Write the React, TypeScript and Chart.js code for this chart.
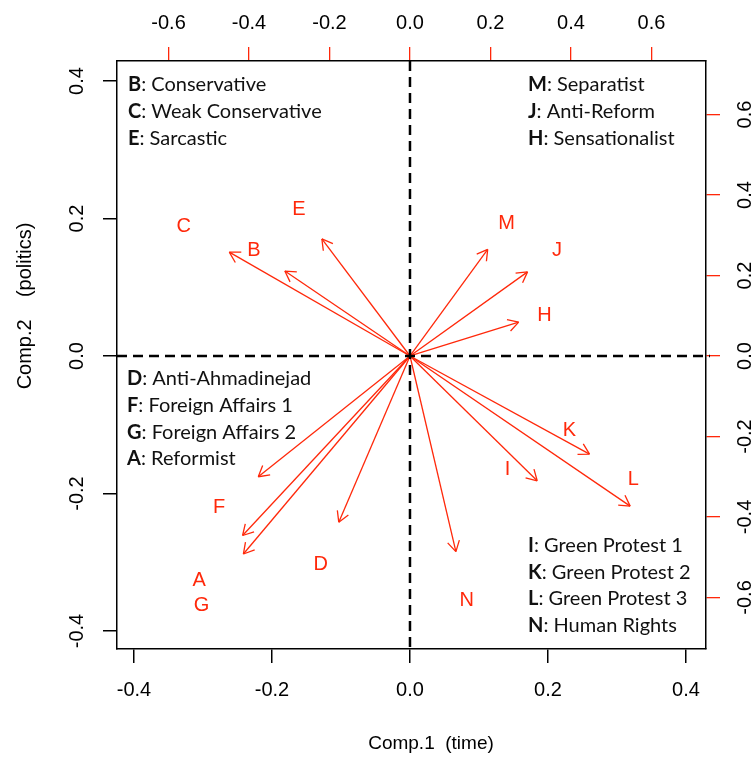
import { useEffect, useRef } from "react";
import { Chart, registerables } from "chart.js";

Chart.register(...registerables);

// ---- data ----
const varCodes = ["A", "B", "C", "D", "E", "F", "G", "H", "I", "J", "K", "L", "M", "N"];
// arrow tips (loading axes: top / right)
const arrowX = [-0.416, -0.311, -0.449, -0.177, -0.219, -0.377, -0.414, 0.270, 0.316, 0.292, 0.446, 0.547, 0.193, 0.114];
const arrowY = [-0.446, 0.211, 0.258, -0.413, 0.291, -0.300, -0.492, 0.084, -0.310, 0.209, -0.244, -0.373, 0.265, -0.486];
// label positions (loading axes)
const labelX = [-0.524, -0.388, -0.562, -0.222, -0.276, -0.474, -0.518, 0.334, 0.242, 0.365, 0.396, 0.555, 0.240, 0.141];
const labelY = [-0.559, 0.262, 0.321, -0.518, 0.363, -0.376, -0.619, 0.100, -0.282, 0.262, -0.184, -0.306, 0.328, -0.608];

const scoreTicks = [-0.4, -0.2, 0, 0.2, 0.4];
const loadingTicks = [-0.6, -0.4, -0.2, 0, 0.2, 0.4, 0.6];
const scoreXRange = [-0.4246, 0.429];
const scoreYRange = [-0.4262, 0.4291];
const loadXRange = [-0.728, 0.7354];
const loadYRange = [-0.728, 0.7329];

const legendTopLeft = [["B", "Conservative"], ["C", "Weak Conservative"], ["E", "Sarcastic"]];
const legendTopRight = [["M", "Separatist"], ["J", "Anti-Reform"], ["H", "Sensationalist"]];
const legendBottomLeft = [["D", "Anti-Ahmadinejad"], ["F", "Foreign Affairs 1"], ["G", "Foreign Affairs 2"], ["A", "Reformist"]];
const legendBottomRight = [["I", "Green Protest 1"], ["K", "Green Protest 2"], ["L", "Green Protest 3"], ["N", "Human Rights"]];

const xTitle = "Comp.1  (time)";
const yTitle = "Comp.2    (politics)";

const RED = "rgb(255,40,10)";
const AXIS_FONT = "Liberation Sans";
const LEGEND_FONT = "Lato";

const overlayPlugin = {
  id: "overlay",
  afterDatasetsDraw(chart: any) {
    const { ctx, chartArea: ca, scales } = chart;
    const sx = scales.x, sy = scales.y, lx = scales.x2, ly = scales.y2;
    ctx.save();

    // arrow heads
    const ox = lx.getPixelForValue(0), oy = ly.getPixelForValue(0);
    ctx.strokeStyle = RED;
    ctx.lineWidth = 1.3;
    const L = 12;
    for (let i = 0; i < varCodes.length; i++) {
      const x1 = lx.getPixelForValue(arrowX[i]);
      const y1 = ly.getPixelForValue(arrowY[i]);
      const ang = Math.atan2(y1 - oy, x1 - ox);
      ctx.beginPath();
      for (const s of [-1, 1]) {
        const a = ang + Math.PI + (s * Math.PI) / 6;
        ctx.moveTo(x1, y1);
        ctx.lineTo(x1 + L * Math.cos(a), y1 + L * Math.sin(a));
      }
      ctx.stroke();
    }

    // variable letters
    ctx.fillStyle = RED;
    ctx.font = `20px "${AXIS_FONT}"`;
    ctx.textAlign = "center";
    ctx.textBaseline = "middle";
    for (let i = 0; i < varCodes.length; i++) {
      ctx.fillText(varCodes[i], lx.getPixelForValue(labelX[i]), ly.getPixelForValue(labelY[i]));
    }

    // dashed zero lines
    const x0 = sx.getPixelForValue(0), y0 = sy.getPixelForValue(0);
    ctx.strokeStyle = "#000";
    ctx.lineWidth = 2.5;
    ctx.setLineDash([10, 6]);
    ctx.beginPath();
    ctx.moveTo(ca.left, y0);
    ctx.lineTo(ca.right + 4, y0);
    ctx.moveTo(x0, ca.top);
    ctx.lineTo(x0, ca.bottom);
    ctx.stroke();
    ctx.setLineDash([]);

    // legend blocks
    const drawBlock = (items: string[][], x: number, y: number) => {
      ctx.textAlign = "left";
      ctx.textBaseline = "alphabetic";
      ctx.fillStyle = "#111";
      items.forEach((it, k) => {
        const yy = y + k * 26.8;
        ctx.font = `bold 20px "${LEGEND_FONT}"`;
        ctx.fillText(it[0], x, yy);
        const w = ctx.measureText(it[0]).width;
        ctx.font = `20px "${LEGEND_FONT}"`;
        ctx.fillText(": " + it[1], x + w, yy);
      });
    };
    drawBlock(legendTopLeft, ca.left + 11, ca.top + 30);
    drawBlock(legendTopRight, ca.left + 411, ca.top + 30);
    drawBlock(legendBottomLeft, ca.left + 10, ca.top + 324);
    drawBlock(legendBottomRight, ca.left + 411, ca.bottom - 97.3);

    // axis titles
    ctx.fillStyle = "#000";
    ctx.font = `19px "${AXIS_FONT}"`;
    ctx.textAlign = "center";
    ctx.textBaseline = "middle";
    ctx.fillText(xTitle, 431, 744);
    ctx.font = `20px "${AXIS_FONT}"`;
    ctx.translate(25, 306);
    ctx.rotate(-Math.PI / 2);
    ctx.fillText(yTitle, 0, 0);

    ctx.restore();
  },
};

function makeTicks(values: number[]) {
  return (scale: any) => {
    scale.ticks = values.map((v) => ({ value: v }));
  };
}

export default function App() {
  const ref = useRef<HTMLCanvasElement | null>(null);
  useEffect(() => {
    if (!ref.current) return;
    const datasets = varCodes.map((c, i) => ({
      label: c,
      data: [
        { x: 0, y: 0 },
        { x: arrowX[i], y: arrowY[i] },
      ],
      xAxisID: "x2",
      yAxisID: "y2",
      showLine: true,
      borderColor: RED,
      borderWidth: 1.3,
      pointRadius: 0,
      fill: false,
    }));
    const tickFont = { family: AXIS_FONT, size: 20 };
    const fmt = (v: any) => Number(v).toFixed(1);
    const chart = new Chart(ref.current, {
      type: "scatter",
      data: { datasets },
      plugins: [overlayPlugin],
      options: {
        animation: false,
        responsive: false,
        devicePixelRatio: 1,
        layout: { padding: 0 },
        plugins: { legend: { display: false }, tooltip: { enabled: false } },
        scales: {
          x: {
            type: "linear",
            position: "bottom",
            min: scoreXRange[0],
            max: scoreXRange[1],
            afterBuildTicks: makeTicks(scoreTicks),
            afterFit: (s: any) => { s.height = 109; },
            grid: { drawOnChartArea: false, drawTicks: true, tickLength: 14, tickColor: "#000", lineWidth: 1.5 },
            border: { display: true, color: "#000", width: 1.5 },
            ticks: { font: tickFont, color: "#000", padding: 15, maxRotation: 0, minRotation: 0, callback: fmt },
          },
          x2: {
            type: "linear",
            position: "top",
            min: loadXRange[0],
            max: loadXRange[1],
            afterBuildTicks: makeTicks(loadingTicks),
            afterFit: (s: any) => { s.height = 61; },
            grid: { drawOnChartArea: false, drawTicks: true, tickLength: 14, tickColor: RED, lineWidth: 1.3 },
            border: { display: true, color: "#000", width: 1.5 },
            ticks: { font: tickFont, color: "#000", padding: 12, maxRotation: 0, minRotation: 0, callback: fmt },
          },
          y: {
            type: "linear",
            position: "left",
            min: scoreYRange[0],
            max: scoreYRange[1],
            afterBuildTicks: makeTicks(scoreTicks),
            afterFit: (s: any) => { s.width = 117; },
            grid: { drawOnChartArea: false, drawTicks: true, tickLength: 14, tickColor: "#000", lineWidth: 1.5 },
            border: { display: true, color: "#000", width: 1.5 },
            ticks: { font: tickFont, color: "#000", padding: 8, minRotation: 90, maxRotation: 90, crossAlign: "center", callback: fmt },
          },
          y2: {
            type: "linear",
            position: "right",
            min: loadYRange[0],
            max: loadYRange[1],
            afterBuildTicks: makeTicks(loadingTicks),
            afterFit: (s: any) => { s.width = 50; },
            grid: { drawOnChartArea: false, drawTicks: true, tickLength: 14, tickColor: RED, lineWidth: 1.3 },
            border: { display: true, color: "#000", width: 1.5 },
            ticks: { font: tickFont, color: "#000", padding: 8, minRotation: 90, maxRotation: 90, crossAlign: "center", callback: fmt },
          },
        },
      } as any,
    });
    return () => chart.destroy();
  }, []);
  return (
    <div style={{ position: "fixed", left: 0, top: 0, width: 756, height: 758, background: "#fff" }}>
      <canvas ref={ref} width={756} height={758} style={{ display: "block" }} />
    </div>
  );
}
